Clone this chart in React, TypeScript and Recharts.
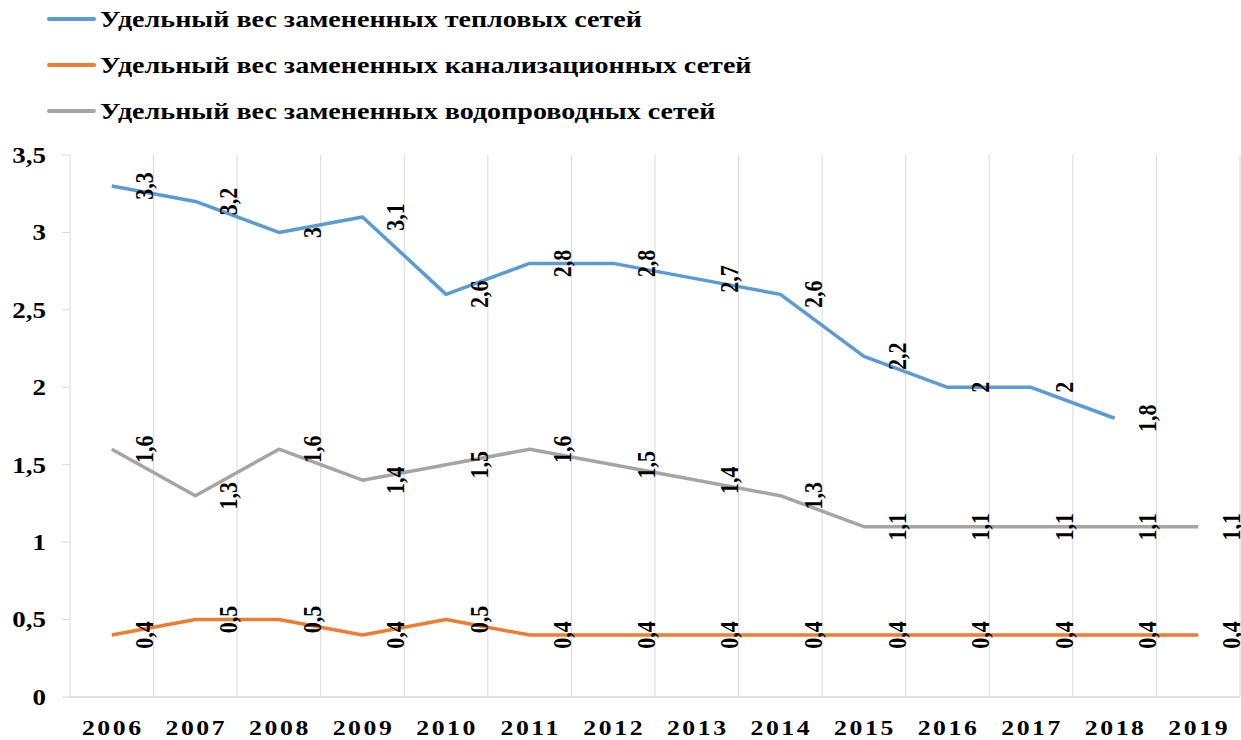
import React from 'react';
import { LineChart, Line, XAxis, YAxis, CartesianGrid, Legend, LabelList } from 'recharts';

const years = ['2006', '2007', '2008', '2009', '2010', '2011', '2012', '2013', '2014', '2015', '2016', '2017', '2018', '2019'];
const heatNetworks = [3.3, 3.2, 3.0, 3.1, 2.6, 2.8, 2.8, 2.7, 2.6, 2.2, 2.0, 2.0, 1.8, null];
const sewerNetworks = [0.4, 0.5, 0.5, 0.4, 0.5, 0.4, 0.4, 0.4, 0.4, 0.4, 0.4, 0.4, 0.4, 0.4];
const waterNetworks = [1.6, 1.3, 1.6, 1.4, 1.5, 1.6, 1.5, 1.4, 1.3, 1.1, 1.1, 1.1, 1.1, 1.1];
const yTicks = [0, 0.5, 1, 1.5, 2, 2.5, 3, 3.5];

const seriesKeys = ['heat', 'sewer', 'water'];
const seriesNames = [
  'Удельный вес замененных тепловых сетей',
  'Удельный вес замененных канализационных сетей',
  'Удельный вес замененных водопроводных сетей',
];
const seriesColors = ['#5B9BD5', '#ED7D31', '#A5A5A5'];

const data = years.map((year, i) => ({
  year,
  heat: heatNetworks[i],
  sewer: sewerNetworks[i],
  water: waterNetworks[i],
}));

const FONT = 'Liberation Serif, Times New Roman, serif';
const SX = 1.17;
const fmt = (v: number) => String(v).replace('.', ',');

const RotLabel = (props: any) => {
  const { x, y, value } = props;
  if (value === null || value === undefined) return null;
  const cx = x + 33;
  return (
    <text
      x={0}
      y={0}
      transform={`translate(${cx} ${y}) scale(${SX} 1) rotate(-90)`}
      textAnchor="middle"
      dominantBaseline="central"
      fontFamily={FONT}
      fontWeight="bold"
      fontSize={22}
      fill="#000"
    >
      {fmt(value)}
    </text>
  );
};

const XTick = (props: any) => {
  const { x, y, payload } = props;
  return (
    <text
      x={0}
      y={0}
      transform={`translate(${x + 1} ${y + 38}) scale(${SX} 1)`}
      textAnchor="middle"
      fontFamily={FONT}
      fontWeight="bold"
      fontSize={22}
      letterSpacing={2.2}
      fill="#000"
    >
      {payload.value}
    </text>
  );
};

const YTick = (props: any) => {
  const { x, y, payload } = props;
  return (
    <text
      x={0}
      y={0}
      transform={`translate(${x} ${y}) scale(${SX} 1)`}
      textAnchor="end"
      dominantBaseline="central"
      fontFamily={FONT}
      fontWeight="bold"
      fontSize={23}
      fill="#000"
    >
      {fmt(payload.value)}
    </text>
  );
};

const renderLegend = () => (
  <svg width={900} height={155} style={{ display: 'block' }}>
    {seriesNames.map((name, i) => {
      const cy = 19 + i * 46;
      return (
        <g key={name}>
          <line x1={49} x2={94} y1={cy} y2={cy} stroke={seriesColors[i]} strokeWidth={4} strokeLinecap="round" />
          <text
            x={0}
            y={0}
            transform={`translate(100 ${cy}) scale(${SX} 1)`}
            dominantBaseline="central"
            fontFamily={FONT}
            fontWeight="bold"
            fontSize={24}
            fill="#000"
          >
            {name}
          </text>
        </g>
      );
    })}
  </svg>
);

export default function App() {
  return (
    <div style={{ position: 'absolute', left: 0, top: 0, width: 1241, height: 740, background: '#fff' }}>
      <LineChart width={1241} height={740} data={data} margin={{ top: 0, right: 1, bottom: 0, left: 0 }}>
        <CartesianGrid
          horizontal={false}
          stroke="#d9d9d9"
          verticalCoordinatesGenerator={({ offset }: any) =>
            years.map((_, i) => offset.left + ((i + 1) * offset.width) / years.length)
          }
        />
        <XAxis
          dataKey="year"
          scale="band"
          height={43}
          tickLine={false}
          tickSize={0}
          tickMargin={0}
          axisLine={{ stroke: '#d9d9d9', strokeWidth: 1.5 }}
          tick={<XTick />}
          interval={0}
        />
        <YAxis
          width={70}
          domain={[0, 3.5]}
          ticks={yTicks}
          axisLine={{ stroke: '#d9d9d9' }}
          tickLine={{ stroke: '#d9d9d9' }}
          tickSize={8}
          tickMargin={16}
          tick={<YTick />}
        />
        <Legend verticalAlign="top" align="left" layout="horizontal" content={renderLegend} />
        {seriesKeys.map((k, i) => (
          <Line
            key={k}
            type="linear"
            dataKey={k}
            name={seriesNames[i]}
            stroke={seriesColors[i]}
            strokeWidth={3.5}
            dot={false}
            activeDot={false}
            isAnimationActive={false}
            strokeLinejoin="round"
          >
            <LabelList dataKey={k} content={<RotLabel />} />
          </Line>
        ))}
      </LineChart>
    </div>
  );
}
